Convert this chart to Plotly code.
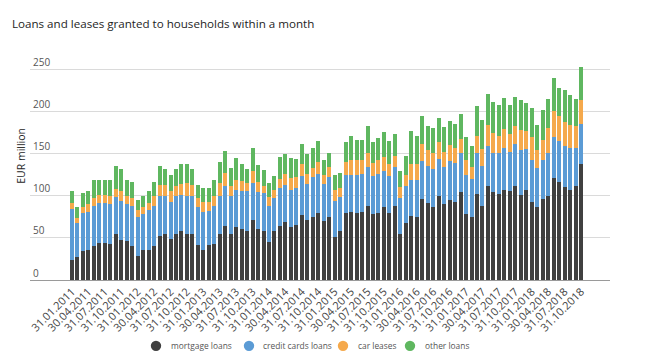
import plotly.graph_objects as go

# ---- data (EUR million, monthly, Jan 2011 - Oct 2018) ----
years = list(range(2011, 2019))
month_ends = ["31.01", "28.02", "31.03", "30.04", "31.05", "30.06",
              "31.07", "31.08", "30.09", "31.10", "30.11", "31.12"]
dates = []
for y in years:
    for i, m in enumerate(month_ends):
        if y == 2018 and i > 9:
            break
        d = m
        if m == "28.02" and y in (2012, 2016):
            d = "29.02"
        dates.append(f"{d}.{y}")

mortgage = [24, 27, 34, 36, 40, 44, 44, 43, 54, 48, 46, 40,
            29, 36, 36, 40, 52, 54, 49, 54, 58, 55, 55, 41,
            36, 42, 43, 55, 64, 55, 63, 60, 58, 71, 61, 58,
            45, 58, 64, 69, 63, 65, 77, 71, 75, 80, 70, 75,
            51, 58, 79, 81, 80, 81, 88, 78, 80, 86, 80, 88,
            54, 68, 76, 75, 96, 91, 87, 100, 90, 95, 93, 104,
            78, 75, 102, 88, 111, 104, 102, 107, 106, 112, 101, 107,
            92, 86, 96, 100, 121, 116, 110, 107, 111, 137]
credit_cards = [60, 41, 46, 45, 48, 47, 47, 47, 44, 46, 44, 48,
                46, 42, 47, 48, 48, 45, 44, 46, 43, 45, 45, 46,
                45, 40, 45, 45, 47, 44, 44, 46, 47, 44, 43, 45,
                43, 39, 45, 44, 44, 44, 46, 43, 47, 46, 44, 47,
                43, 40, 45, 44, 45, 45, 46, 45, 46, 43, 43, 46,
                43, 43, 43, 44, 45, 44, 45, 44, 44, 46, 46, 47,
                46, 45, 48, 47, 48, 47, 48, 49, 46, 49, 53, 48,
                50, 47, 46, 50, 49, 49, 49, 49, 46, 48]
car_leases = [7, 6, 7, 9, 9, 10, 10, 10, 10, 11, 9, 9,
              8, 9, 8, 11, 13, 14, 13, 12, 13, 15, 13, 10,
              12, 11, 12, 15, 16, 12, 12, 11, 10, 14, 12, 9,
              10, 10, 11, 13, 14, 13, 15, 12, 11, 14, 11, 12,
              13, 11, 16, 17, 17, 16, 17, 16, 16, 17, 15, 13,
              13, 14, 19, 19, 20, 19, 18, 20, 18, 19, 18, 16,
              18, 14, 21, 20, 25, 23, 21, 23, 21, 22, 24, 22,
              27, 21, 24, 30, 30, 29, 28, 28, 26, 28]
other_loans = [15, 12, 16, 16, 21, 17, 17, 18, 27, 26, 20, 19,
               12, 13, 15, 17, 22, 18, 19, 20, 23, 23, 18, 16,
               16, 16, 19, 25, 26, 22, 26, 20, 17, 27, 20, 18,
               17, 16, 26, 23, 24, 22, 23, 23, 24, 25, 17, 17,
               17, 18, 23, 29, 24, 24, 32, 25, 26, 29, 27, 26,
               19, 22, 39, 33, 33, 28, 30, 28, 29, 28, 28, 30,
               28, 25, 35, 35, 37, 37, 37, 37, 34, 34, 35, 33,
               35, 30, 36, 35, 40, 34, 38, 35, 32, 39]

series_names = ["mortgage loans", "credit cards loans", "car leases", "other loans"]
series_values = [mortgage, credit_cards, car_leases, other_loans]
colors = ["#404040", "#5b9bd5", "#f5a94c", "#5fb760"]

y_ticks = [0, 50, 100, 150, 200, 250]
x_ticks = dates[::3]

FONT = "Open Sans"
W, H = 642, 348  # page body has an 8px margin inside the 650x356 window
ML, MR, MT, MB = 22, 40, 40, 75.5
PW, PH = W - ML - MR, H - MT - MB


def px(x):
    return (x - ML) / PW


def py(y):
    return (H - MB - y) / PH


fig = go.Figure()
for name, vals, col in zip(series_names, series_values, colors):
    fig.add_trace(go.Bar(x=dates, y=vals, name=name, marker=dict(color=col, line=dict(width=0)),
                         showlegend=False))

# legend: circle markers + labels laid out in a row under the chart
legend_circle_x = [148, 241, 335, 402]
legend_text_x = [161, 253, 348, 415]
legend_y = 338.5
shapes = []
annotations = []
for name, col, cx, tx in zip(series_names, colors, legend_circle_x, legend_text_x):
    r = 5.2
    shapes.append(dict(type="circle", xref="paper", yref="paper",
                       x0=px(cx - r), x1=px(cx + r), y0=py(legend_y + r), y1=py(legend_y - r),
                       fillcolor=col, line=dict(width=0)))
    annotations.append(dict(text=name, xref="paper", yref="paper", x=px(tx), y=py(legend_y),
                            xanchor="left", yanchor="middle", showarrow=False,
                            font=dict(size=8.4, color="#555555", family=FONT)))

annotations.append(dict(text="EUR million", textangle=-90, xref="paper", yref="paper",
                        x=px(13), y=py(148), xanchor="center", yanchor="middle", showarrow=False,
                        font=dict(size=10.5, color="#262626", family=FONT)))

fig.update_layout(
    width=W, height=H,
    barmode="stack", bargap=0.27,
    showlegend=False,
    paper_bgcolor="white", plot_bgcolor="white",
    margin=dict(l=ML, r=MR, t=MT, b=MB, autoexpand=False),
    font=dict(family=FONT, color="#555555", size=10),
    title=dict(text="Loans and leases granted to households within a month",
               x=0, xref="container", xanchor="left", y=1 - 16 / H, yanchor="middle",
               pad=dict(l=4),
               font=dict(family=FONT, size=11.6, color="#1e1e1e")),
    xaxis=dict(type="category", range=[-7.67, 98.3], tickmode="array",
               tickvals=x_ticks, ticktext=x_ticks, tickangle=-45,
               showgrid=False, showline=True, linecolor="#9a9a9a", linewidth=1,
               ticks="", tickfont=dict(size=11, color="#444444")),
    yaxis=dict(range=[0, 275], tickmode="array", tickvals=y_ticks,
               ticklabelposition="inside top", showgrid=True, gridcolor="#dadada",
               gridwidth=1, zeroline=False, ticks="",
               tickfont=dict(size=10, color="#555555")),
    shapes=shapes,
    annotations=annotations,
)

fig.write_html("out.html")
